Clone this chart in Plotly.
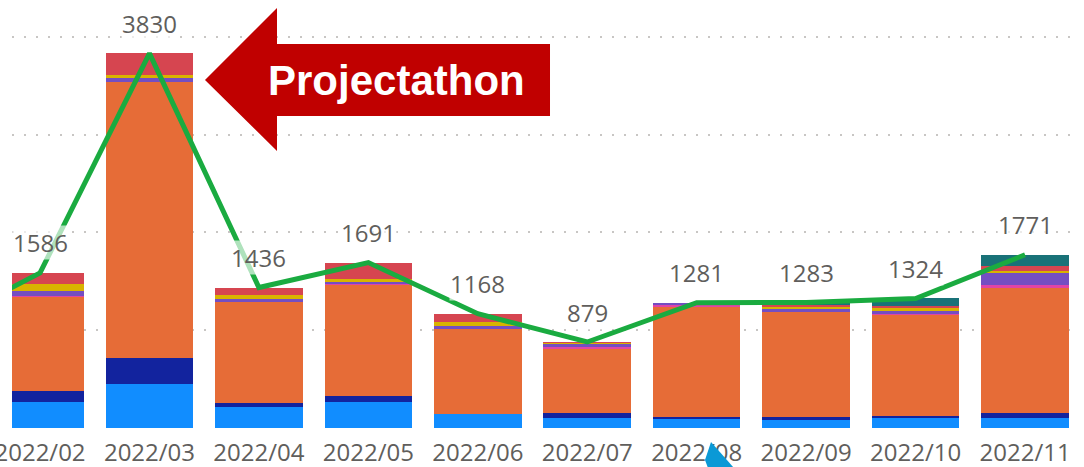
import plotly.graph_objects as go

months = ["2022/01", "2022/02", "2022/03", "2022/04", "2022/05", "2022/06",
          "2022/07", "2022/08", "2022/09", "2022/10", "2022/11"]

s_lightblue = [150, 270, 450, 215, 265, 145, 100, 100, 90, 110, 100]
s_navy      = [50, 105, 265, 45, 65, 0, 50, 12, 20, 10, 55]
s_orange    = [700, 965, 2820, 1026, 1141, 868, 665, 1135, 1073, 1039, 1284]
s_pink      = [0, 12, 0, 0, 10, 0, 15, 14, 0, 10, 20]
s_purple    = [30, 45, 40, 35, 10, 30, 30, 20, 30, 30, 125]
s_yellow    = [30, 75, 30, 35, 30, 45, 9, 0, 25, 30, 25]
s_red       = [40, 114, 225, 80, 170, 80, 10, 0, 15, 15, 50]
s_teal      = [0, 0, 0, 0, 0, 0, 0, 0, 30, 80, 112]
totals      = [1000, 1586, 3830, 1436, 1691, 1168, 879, 1281, 1283, 1324, 1771]

series = [
    ("A", s_lightblue, "#118DFF"),
    ("B", s_navy, "#12239E"),
    ("C", s_orange, "#E66C37"),
    ("D", s_pink, "#E044A7"),
    ("E", s_purple, "#744EC2"),
    ("F", s_yellow, "#D9B300"),
    ("G", s_red, "#D64550"),
    ("H", s_teal, "#197278"),
]

W, H = 1084, 467
ML, MR, MT, MB = 12, 4, 0, 39
PW, PH = W - ML - MR, H - MT - MB

def px(x):
    return (x - ML) / PW

def py(y):
    return (H - MB - y) / PH

fig = go.Figure()
for name, vals, col in series:
    fig.add_trace(go.Bar(x=months, y=vals, name=name, marker=dict(color=col, line=dict(width=0))))

fig.add_trace(go.Scatter(x=months, y=totals, mode="lines", name="Total",
                         line=dict(color="#1AAB40", width=5)))

annotations = []
for m, t in zip(months[1:], totals[1:]):
    annotations.append(dict(x=m, y=t, xref="x", yref="y", text=str(t), showarrow=False,
                            yshift=30, font=dict(family="Open Sans, Segoe UI, sans-serif", size=24, color="#605E5C"),
                            bgcolor="rgba(255,255,255,0.65)", borderpad=0))

annotations.append(dict(x=px(396), y=py(80), xref="paper", yref="paper", text="<b>Projectathon</b>",
                        showarrow=False, xanchor="center", yanchor="middle",
                        font=dict(family="Liberation Sans, Arial, sans-serif", size=42, color="white")))

arrow_pts = [(205, 80), (277, 8), (277, 44), (550, 44), (550, 116), (277, 116), (277, 151)]
arrow_path = "M " + " L ".join(f"{px(x):.5f},{py(y):.5f}" for x, y in arrow_pts) + " Z"
blue_pts = [(711, 442), (705, 460), (708, 468), (734, 468)]
blue_path = "M " + " L ".join(f"{px(x):.5f},{py(y):.5f}" for x, y in blue_pts) + " Z"

shapes = [
    dict(type="path", xref="paper", yref="paper", path=arrow_path,
         fillcolor="#C00000", line=dict(width=0)),
    dict(type="path", xref="paper", yref="paper", path=blue_path,
         fillcolor="#0A99D6", line=dict(width=0)),
]

fig.update_layout(
    width=W, height=H,
    margin=dict(l=ML, r=MR, t=MT, b=MB, pad=0, autoexpand=False),
    barmode="stack", bargap=0.2,
    showlegend=False,
    plot_bgcolor="white", paper_bgcolor="white",
    annotations=annotations, shapes=shapes,
    xaxis=dict(type="category", range=[0.744, 10.502], showgrid=False, zeroline=False,
               showline=False, ticks="", automargin=False, ticklabelstandoff=8,
               tickfont=dict(family="Open Sans, Segoe UI, sans-serif", size=24, color="#605E5C")),
    yaxis=dict(range=[0, 4375], tickvals=[0, 1000, 2000, 3000, 4000], showticklabels=False,
               showgrid=True, gridcolor="#C8C6C4", gridwidth=1.5, griddash="2px,10px",
               zeroline=False, showline=False, automargin=False),
)

fig.write_html("out.html", config={"displayModeBar": False},
               post_script="document.body.style.margin='0px';document.body.style.overflow='hidden';")
